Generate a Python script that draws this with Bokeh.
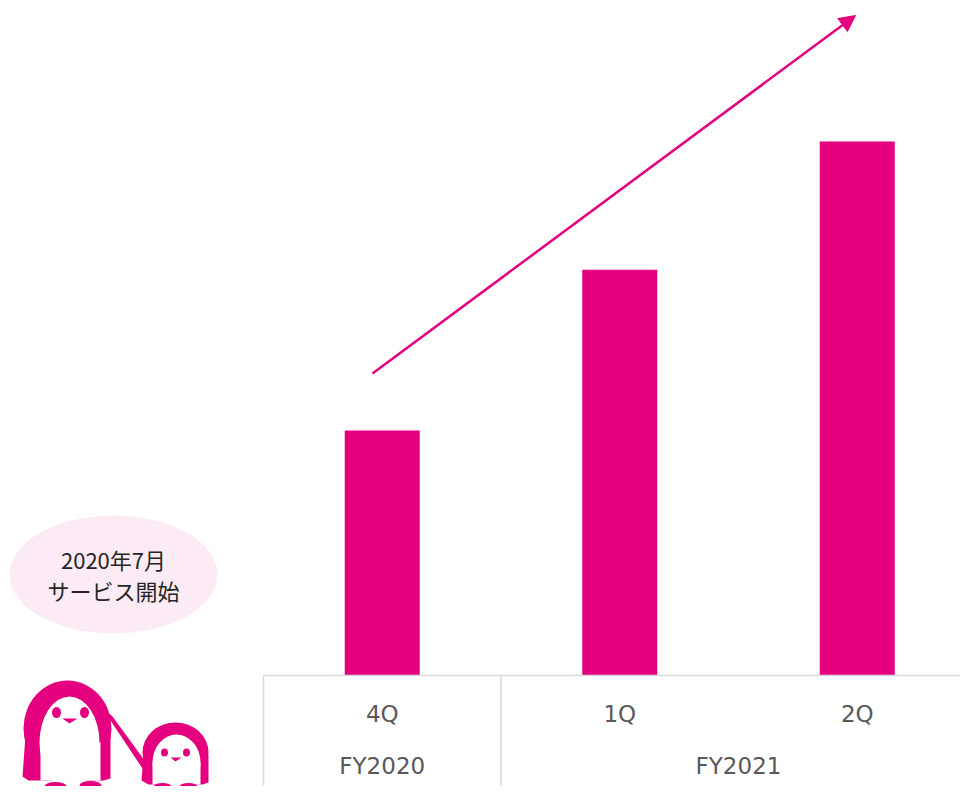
from bokeh.plotting import figure
from bokeh.models import Range1d, Arrow, NormalHead
from bokeh.core.properties import value
from bokeh.embed import file_html
from bokeh.resources import INLINE

# ---- data ----
quarters = ["4Q", "1Q", "2Q"]
years = ["FY2020", "FY2021"]
year_spans = [(0, 1), (1, 3)]          # category slots covered by each fiscal year
values = [45.9, 76.0, 100.0]           # relative bar heights (no axis in source)
note_lines = ["2020年7月", "サービス開始"]

PINK = "#e4007f"
GRID = "#d9d9d9"

# ---- geometry helpers (figure px -> data units) for decoration ----
X0, SX = 263.0, 237.5     # px of slot 0, px per slot
Y0, SY = 675.0, 5.34      # px of baseline, px per value unit
def dx(px): return (px - X0) / SX
def dy(py): return (Y0 - py) / SY

W, H = 960, 786
p = figure(width=W, height=H, output_backend="svg", toolbar_location=None,
           x_range=Range1d(dx(0), dx(W)), y_range=Range1d(dy(H), dy(0)),
           min_border=0, min_border_left=0, min_border_right=0,
           min_border_top=0, min_border_bottom=0)
p.axis.visible = False
p.grid.visible = False
p.outline_line_color = None
p.background_fill_color = "white"
p.border_fill_color = "white"

# bars
centers = [i + 0.5 for i in range(len(quarters))]
p.vbar(x=centers, top=values, bottom=0, width=75 / SX, color=PINK, line_color=None)

# category axis line and separators
p.segment(x0=[0], y0=[0], x1=[dx(W)], y1=[0], line_color=GRID, line_width=1.5)
p.segment(x0=[0, 1], y0=[0, 0], x1=[0, 1], y1=[dy(785), dy(785)], line_color=GRID, line_width=1.5)

# labels
p.text(x=centers, y=[dy(713)] * 3, text=quarters, text_align="center", text_baseline="middle",
       text_font=value("DejaVu Sans"), text_font_size="23px", text_color="#595959")
p.text(x=[(a + b) / 2 for a, b in year_spans], y=[dy(765)] * 2, text=years, text_align="center",
       text_baseline="middle", text_font=value("DejaVu Sans"), text_font_size="23px",
       text_color="#595959")

# trend arrow
p.add_layout(Arrow(end=NormalHead(size=16, fill_color=PINK, line_color=PINK),
                   x_start=dx(372), y_start=dy(373), x_end=dx(855), y_end=dy(15),
                   line_color=PINK, line_width=2.5))

# note bubble
p.ellipse(x=[dx(113)], y=[dy(574)], width=208, height=118, width_units="screen",
          height_units="screen", fill_color="#fcebf4", line_color=None)
p.text(x=[dx(113)] * 2, y=[dy(558), dy(589)], text=note_lines, text_align="center",
       text_baseline="middle", text_font=value("Noto Sans CJK JP"), text_font_size="22px",
       text_color="#262626")

# ---- penguin illustration ----
def E(cx, cy, w, h, color):
    p.ellipse(x=[dx(cx)], y=[dy(cy)], width=w, height=h, width_units="screen",
              height_units="screen", fill_color=color, line_color=None)
def P(xs, ys, color):
    p.patch(x=[dx(v) for v in xs], y=[dy(v) for v in ys], fill_color=color, line_color=None)

# arm between the two
P([100, 112, 150, 146], [705, 716, 768, 774], PINK)
# big penguin
P([25, 110, 110, 103, 28, 22], [735, 735, 778, 780, 780, 776], PINK)
E(67, 728, 88, 96, PINK)
E(69, 742, 60, 92, "white")
P([40, 100, 100, 40], [742, 742, 780, 780], "white")
E(56, 712, 9, 11, PINK)
E(84, 712, 9, 11, PINK)
P([62, 77, 69], [718, 718, 723], PINK)
E(55, 786, 22, 9, PINK)
E(90, 785, 22, 9, PINK)
# small penguin
P([143, 208, 208, 202, 148, 141], [755, 755, 782, 784, 784, 780], PINK)
E(175, 752, 66, 60, PINK)
E(176, 762, 48, 56, "white")
P([152, 200, 200, 152], [762, 762, 784, 784], "white")
E(164, 752, 7, 8, PINK)
E(186, 752, 7, 8, PINK)
P([170, 181, 175], [757, 757, 761], PINK)
E(162, 786, 18, 7, PINK)
E(188, 786, 18, 7, PINK)

open("out.html", "w").write(file_html(p, INLINE))
